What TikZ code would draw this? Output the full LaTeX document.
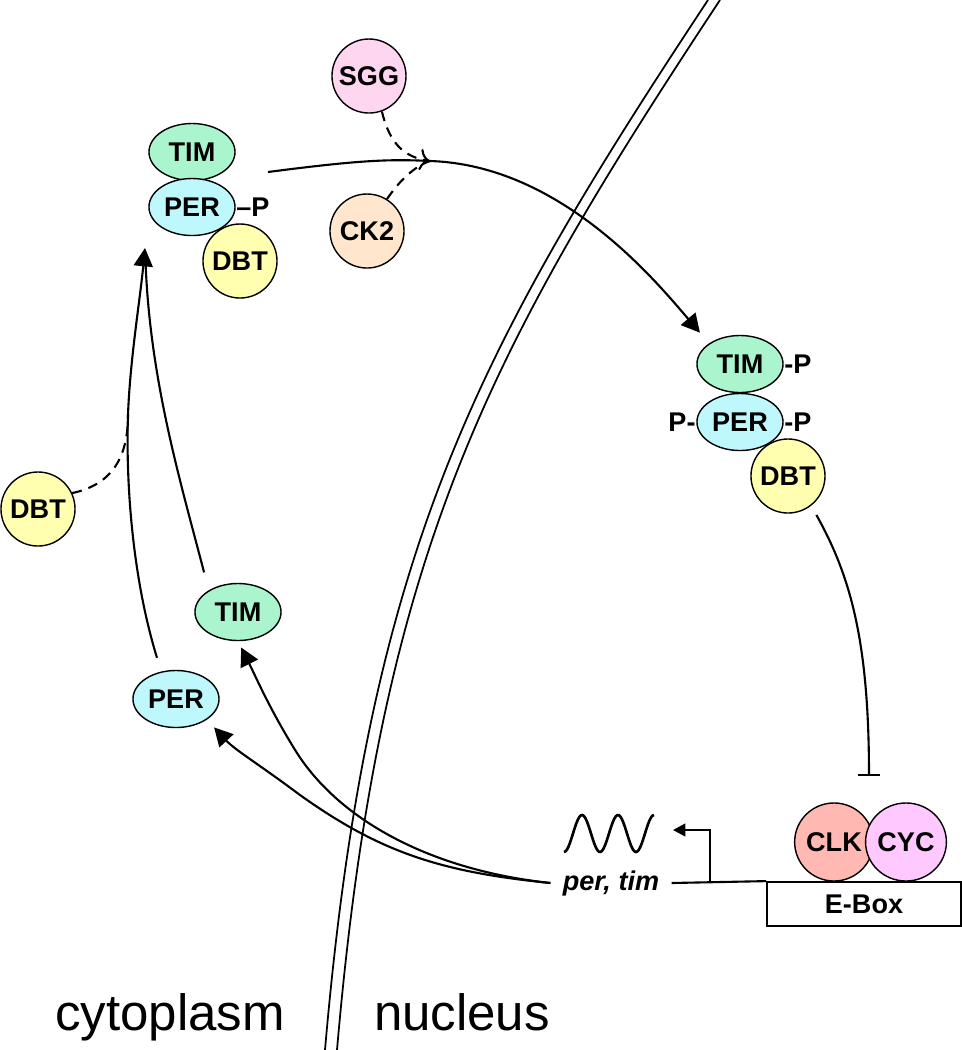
\documentclass[tikz,border=0pt]{standalone}
\usepackage{fontspec}
\setmainfont{Liberation Sans}
\usetikzlibrary{shapes.geometric,arrows.meta,calc}
\definecolor{timgreen}{RGB}{170,245,205}
\definecolor{percyan}{RGB}{190,248,252}
\definecolor{dbtyellow}{RGB}{255,255,175}
\definecolor{sggpink}{RGB}{255,214,240}
\definecolor{ckpeach}{RGB}{255,230,205}
\definecolor{clksalmon}{RGB}{255,185,178}
\definecolor{cycpink}{RGB}{255,200,255}
\begin{document}
\begin{tikzpicture}[x=0.01cm,y=-0.01cm,
		lbl/.style={font=\bfseries\fontsize{7.7}{9}\selectfont},
		prot/.style={ellipse,draw,line width=0.4pt,inner sep=0pt,minimum width=0.86cm,minimum height=0.57cm,lbl},
		kin/.style={circle,draw,line width=0.4pt,inner sep=0pt,minimum size=0.74cm,lbl},
		phos/.style={inner sep=0pt,lbl},
		link/.style={line width=0.6pt},
		big/.style={-{Triangle[length=5.2pt,width=5.4pt]}},
		mod/.style={link,dashed,dash pattern=on 2.8pt off 2pt}]
	\useasboundingbox (0,0) rectangle (962,1050);
	% nuclear envelope
	\foreach \d in {0,12}
		\draw[line width=0.5pt] (708+\d,0) .. controls (477+\d,350) and (368+\d,550) .. (325+\d,1050);
	\node[font=\fontsize{14.5}{16}\selectfont,anchor=base] (cyto) at (170,1030) {cytoplasm};
	\node[font=\fontsize{14.5}{16}\selectfont,anchor=base] (nuc) at (462,1030) {nucleus};

	\node[prot,fill=timgreen] (tim1) at (192,152) {TIM};
	\node[prot,fill=percyan] (per1) at (192,207) {PER};
	\node[kin,fill=dbtyellow] (dbt1) at (240,261) {DBT};
	\node[phos,anchor=west] (p1) at (per1.east) {--P};
	\node[kin,fill=sggpink] (sgg) at (369,76) {SGG};
	\node[kin,fill=ckpeach] (ck2) at (367,231) {CK2};

	\node[prot,fill=timgreen] (tim2) at (740,364) {TIM};
	\node[prot,fill=percyan] (per2) at (740,422) {PER};
	\node[kin,fill=dbtyellow] (dbt2) at (788,476) {DBT};
	\node[phos,anchor=west] (p2) at (tim2.east) {-P};
	\node[phos,anchor=west] (p3) at (per2.east) {-P};
	\node[phos,anchor=east] (p4) at (per2.west) {P-};

	\node[kin,fill=dbtyellow] (dbt3) at (38,509) {DBT};
	\node[prot,fill=timgreen] (tc) at (238,612) {TIM};
	\node[prot,fill=percyan] (pc) at (176,699) {PER};

	\node[prot,fill=clksalmon,minimum width=0.72cm,minimum height=0.78cm] (clk) at (834,842) {CLK};
	\node[prot,fill=cycpink,minimum width=0.70cm,minimum height=0.78cm] (cyc) at (906,842) {CYC};
	\node[draw,line width=0.5pt,minimum width=1.94cm,minimum height=0.44cm,lbl] (ebox) at (864,904) {E-Box};
	\node[lbl,font=\bfseries\itshape\fontsize{7.7}{9}\selectfont] (pertim) at (611,883) {per, tim};

	\coordinate (exp) at (268,172);
	\coordinate (j) at (430,161);
	\coordinate (entry) at (145,248);
	\coordinate (m) at (128,415);
	\coordinate (rep) at (869,776);
	\coordinate (tss) at (710,882.5);
	\coordinate (mrna) at (673,830);

	\draw[link] (pertim.east) -- (ebox.north west);
	\draw[link,-{Triangle[length=3.5pt,width=3.6pt]}] (tss) |- (mrna);
	\draw[line width=0.75pt] plot[domain=0:5,samples=60] ({564+18*\x},{833.5+18.5*cos(180*\x)});

	\draw[link,big,shorten >=4pt] (exp) .. controls (360,160) and (390,159) .. (j) .. controls (560,165) and (655,280) .. (tim2.north west);
	\draw[mod,->] (sgg.-70) .. controls (390,145) and (405,157) .. (j);
	\draw[mod] (ck2.58) .. controls (400,180) and (415,166) .. (j);
	\draw[link,-{Bar[width=6.3pt]},shorten <=3pt] (dbt2.-52) .. controls (850,575) and (869,640) .. (rep);

	\draw[link,big] ($(pc.north)+(-19,-12)$) .. controls (130,570) and (126,470) .. (m) .. controls (130,360) and (140,300) .. (entry);
	\draw[link,shorten >=4pt] ($(tc.north west)+(-3,-19)$) .. controls (180,480) and (150,380) .. (entry);
	\draw[mod] (dbt3.25) .. controls (110,485) and (128,460) .. (m);

	\draw[link,big,shorten >=3pt] (pertim.west) .. controls (440,872) and (380,852) .. (300,795) .. controls (260,765) and (235,750) .. (pc.south east);
	\draw[link,big,shorten >=2pt] (pertim.west) .. controls (430,870) and (340,820) .. (297,753) .. controls (270,710) and (255,675) .. (tc.south);
\end{tikzpicture}
\end{document}
